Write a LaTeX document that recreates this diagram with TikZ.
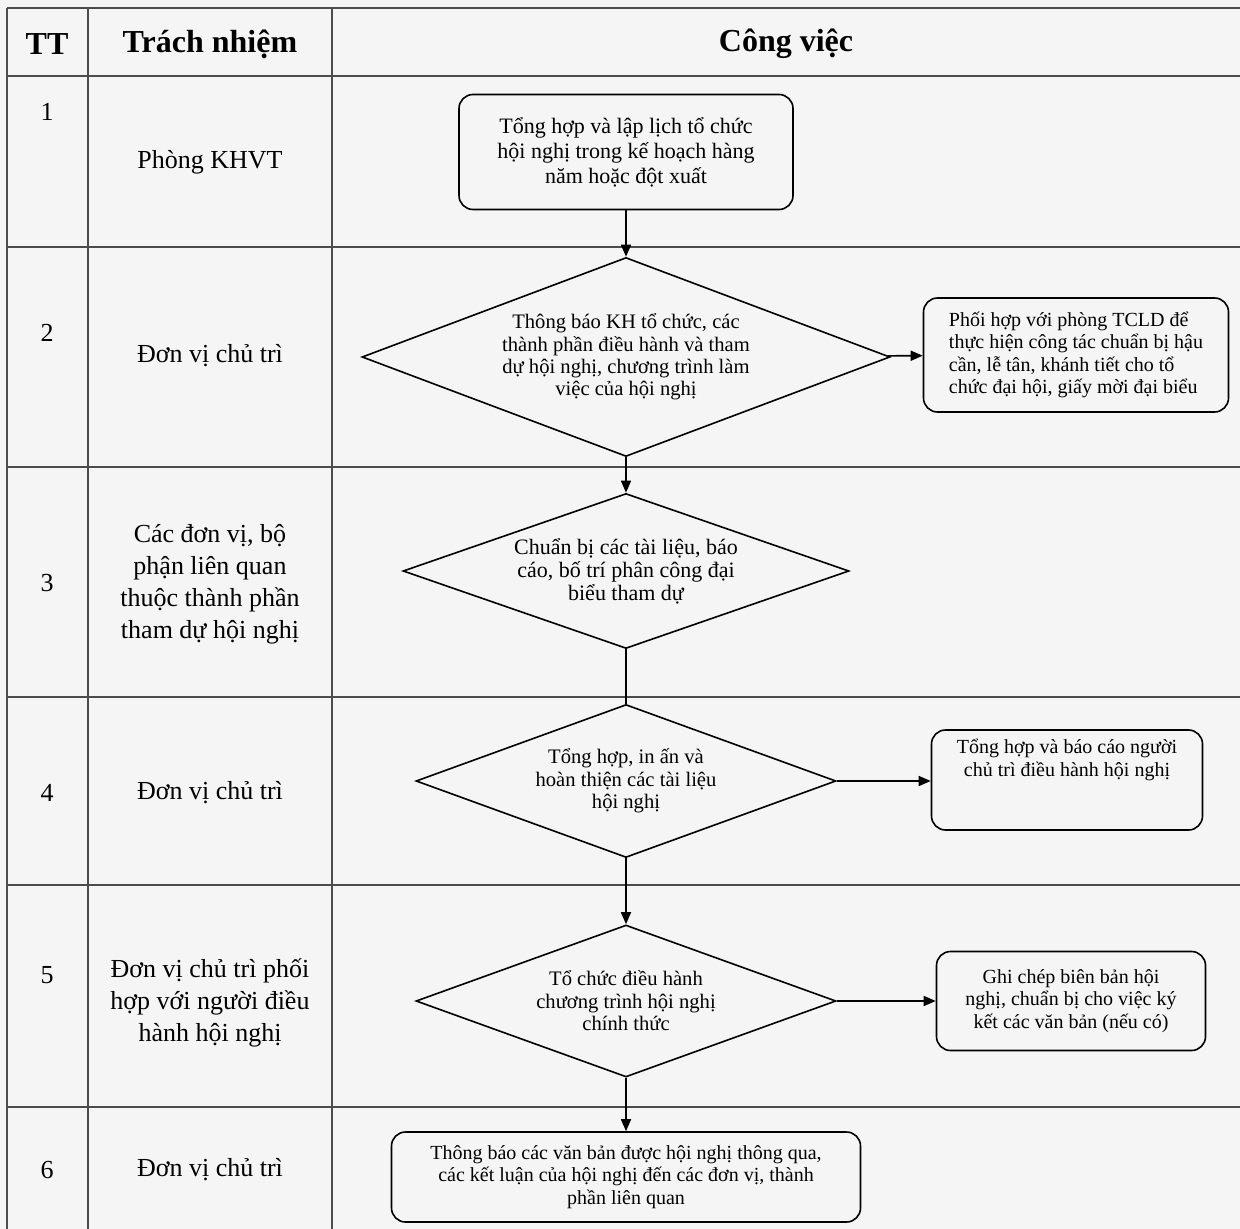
\documentclass[tikz,border=0pt]{standalone}
\usepackage{fontspec}
\setmainfont{Liberation Serif}
\usetikzlibrary{shapes.geometric,arrows.meta,positioning}
\tikzset{
    head/.style={font=\fontsize{16}{19}\selectfont\bfseries},
    cell/.style={font=\fontsize{13}{16}\selectfont, align=center},
    task/.style={rectangle, draw, line width=0.8pt, rounded corners=7pt, align=center, inner sep=2pt, font=\fontsize{10}{11.2}\selectfont},
    decision/.style={diamond, draw, line width=0.8pt, align=center, inner sep=0pt, font=\fontsize{10.3}{11.2}\selectfont},
    flow/.style={-{Triangle[length=6pt,width=5pt]}, line width=0.8pt},
    link/.style={line width=0.8pt},
    rule/.style={line width=0.6pt, black!70},
}

\begin{document}
\begin{tikzpicture}[x=0.5pt, y=-0.5pt]
    \useasboundingbox (0,0) rectangle (1240,1229);
    \fill[black!4] (0,0) rectangle (1240,1229);

    % table
    \foreach \y in {8,76,247,467,697,885,1107}
        \draw[rule] (7,\y) -- (1240,\y);
    \foreach \x in {7,88,332}
        \draw[rule] (\x,8) -- (\x,1229);

    \node[head] (hTT) at (47,44) {TT};
    \node[head] (hresp) at (210,44) {Trách nhiệm};
    \node[head] (hwork) at (786,44) {Công việc};

    \foreach \n/\y in {1/112,2/333,3/583,4/793,5/975,6/1170}
        \node[cell] (tt\n) at (47,\y) {\n};

    \node[cell] (r1) at (210,162) {Phòng KHVT};
    \node[cell] (r2) at (210,356) {Đơn vị chủ trì};
    \node[cell] (r3) at (210,584) {Các đơn vị, bộ\\phận liên quan\\thuộc thành phần\\tham dự hội nghị};
    \node[cell] (r4) at (210,793) {Đơn vị chủ trì};
    \node[cell] (r5) at (210,1003) {Đơn vị chủ trì phối\\hợp với người điều\\hành hội nghị};
    \node[cell] (r6) at (210,1170) {Đơn vị chủ trì};

    % flow
    \node[task, minimum width=167pt, minimum height=57.5pt, font=\fontsize{11}{12.5}\selectfont] (p1) at (626,152)
        {Tổng hợp và lập lịch tổ chức\\hội nghị trong kế hoạch hàng\\năm hoặc đột xuất};
    \node[decision, aspect=2.65, minimum width=264pt, minimum height=99.5pt] (d2) at (626,357)
        {Thông báo KH tổ chức, các\\thành phần điều hành và tham\\dự hội nghị, chương trình làm\\việc của hội nghị};
    \node[task, minimum width=152.5pt, minimum height=57pt, align=left] (s2) at (1076,355)
        {Phối hợp với phòng TCLD để\\thực hiện công tác chuẩn bị hậu\\cần, lễ tân, khánh tiết cho tổ\\chức đại hội, giấy mời đại biểu};
    \node[decision, aspect=2.88, minimum width=223pt, minimum height=77.5pt, font=\fontsize{11}{11.5}\selectfont] (d3) at (626,571)
        {Chuẩn bị các tài liệu, báo\\cáo, bố trí phân công đại\\biểu tham dự};
    \node[decision, aspect=2.75, minimum width=210pt, minimum height=76.5pt] (d4) at (626,781)
        {Tổng hợp, in ấn và\\hoàn thiện các tài liệu\\hội nghị};
    \node[task, minimum width=135.5pt, minimum height=50pt] (s4) at (1067,780)
        {Tổng hợp và báo cáo người\\chủ trì điều hành hội nghị\\[11pt]};
    \node[decision, aspect=2.76, minimum width=210pt, minimum height=76pt] (d5) at (626,1001)
        {Tổ chức điều hành\\chương trình hội nghị\\chính thức};
    \node[task, minimum width=134.5pt, minimum height=49.5pt] (s5) at (1071,1001)
        {Ghi chép biên bản hội\\nghị, chuẩn bị cho việc ký\\kết các văn bản (nếu có)};
    \node[task, minimum width=234.5pt, minimum height=45pt] (p6) at (626,1177)
        {Thông báo các văn bản được hội nghị thông qua,\\các kết luận của hội nghị đến các đơn vị, thành\\phần liên quan};

    \draw[flow] (p1) -- (d2);
    \draw[flow] (d2) -- (s2);
    \draw[flow] (d2) -- (d3);
    \draw[link] (d3) -- (d4);
    \draw[flow] (d4.east) -- (d4.east -| s4.west);
    \draw[flow] (d4) -- (d5);
    \draw[flow] (d5) -- (s5);
    \draw[flow] (d5) -- (p6);
\end{tikzpicture}
\end{document}
